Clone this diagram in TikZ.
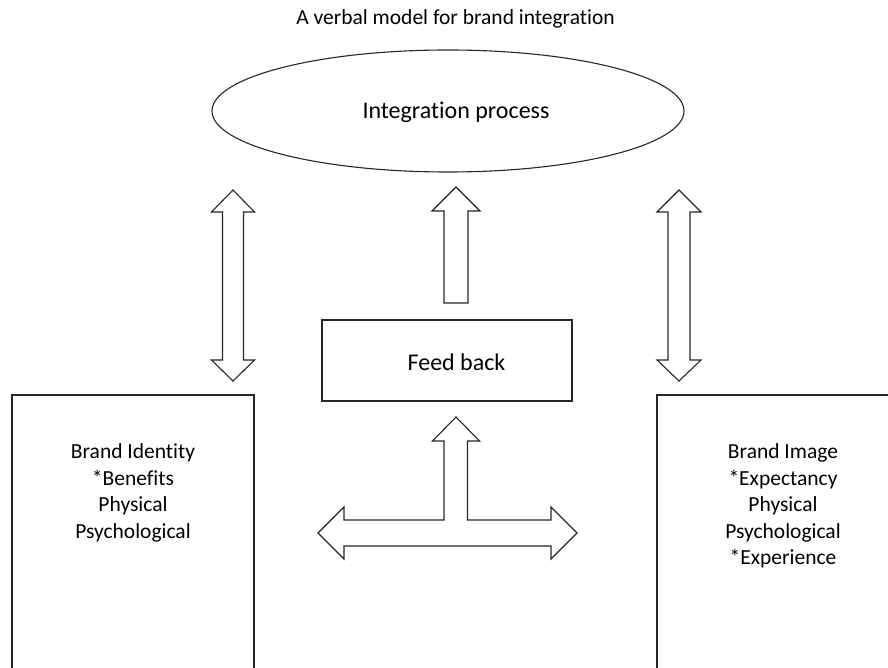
\documentclass[tikz,border=0pt]{standalone}
\usepackage{fontspec}
\setmainfont{Carlito}[Ligatures={NoCommon}]
\begin{document}
\begin{tikzpicture}[x=1pt,y=-1pt,
  outline/.style={draw=black!85,line width=1.1pt,line join=miter},
  blockarrow/.style={outline,fill=white},
  bigtext/.style={font=\fontsize{24}{29}\selectfont},
  bodytext/.style={font=\fontsize{21.5}{26.5}\selectfont,align=center},
  panel/.style={outline,fill=white}]
\useasboundingbox (0,0) rectangle (888,668);

% title
\node[font=\fontsize{21.5}{26}\selectfont] (title) at (455.5,19) {A verbal model for brand integration};

% integration process ellipse
\draw[outline] (448,111) ellipse [x radius=236, y radius=61];
\node[bigtext] (integ) at (456,112) {Integration process};

% feedback box
\draw[panel] (322,320) rectangle (572,401);
\node[bigtext] (feed) at (456.5,362) {Feed back};

% side panels (run past the lower and right edges)
\draw[panel] (12,395) rectangle (254,690);
\draw[panel] (657,395) rectangle (910,690);
\node[bodytext] (ident) at (133,493) {Brand Identity\\*Benefits\\Physical\\Psychological};
\node[bodytext] (image) at (783,506) {Brand Image\\*Expectancy\\Physical\\Psychological\\*Experience};

% left vertical double arrow
\draw[blockarrow] (233,190) -- (254.5,212) -- (243.5,212) -- (243.5,360) -- (254.5,360)
  -- (233,381) -- (211.5,360) -- (222.5,360) -- (222.5,212) -- (211.5,212) -- cycle;

% right vertical double arrow
\draw[blockarrow] (679,190) -- (701,212) -- (690,212) -- (690,360) -- (701,360)
  -- (679,381) -- (657,360) -- (668,360) -- (668,212) -- (657,212) -- cycle;

% arrow from feedback up to the integration process
\draw[blockarrow] (456,187) -- (480,211) -- (468,211) -- (468,303) -- (444,303)
  -- (444,211) -- (432,211) -- cycle;

% T-shaped arrow below the feedback box
\draw[blockarrow] (456,417) -- (479.5,441) -- (467.5,441) -- (467.5,520) -- (551,520)
  -- (551,507) -- (577,533) -- (551,559) -- (551,546) -- (344,546) -- (344,559)
  -- (318,533) -- (344,507) -- (344,520) -- (444,520) -- (444,441) -- (432.5,441) -- cycle;
\end{tikzpicture}
\end{document}
